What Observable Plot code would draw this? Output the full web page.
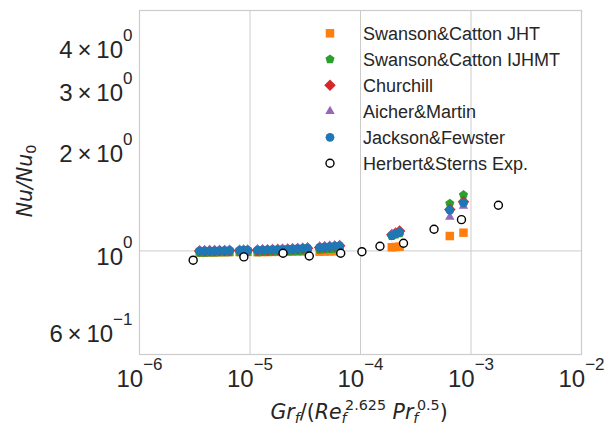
<!DOCTYPE html>
<html>
<head>
<meta charset="utf-8">
<script src="https://cdn.jsdelivr.net/npm/d3@7"></script>
<script src="https://cdn.jsdelivr.net/npm/@observablehq/plot@0.6"></script>
<style>
  html, body { margin: 0; padding: 0; background: #ffffff; }
  #chart { position: relative; width: 606px; height: 428px; }
  svg { display: block; }
</style>
</head>
<body>
<div id="chart"></div>
<script>
// ---------------- data ----------------
const xModel = [3.50e-6, 3.88e-6, 4.31e-6, 4.78e-6, 5.30e-6, 5.89e-6, 6.53e-6,
                8.05e-6, 8.75e-6, 9.51e-6,
                1.17e-5, 1.30e-5, 1.44e-5, 1.60e-5, 1.78e-5, 1.97e-5, 2.19e-5, 2.43e-5, 2.70e-5, 3.00e-5, 3.32e-5,
                4.27e-5, 4.74e-5, 5.26e-5, 5.84e-5, 6.48e-5,
                1.92e-4, 2.08e-4, 2.26e-4,
                6.43e-4, 8.55e-4];

const swansonJHT = [0.990, 0.990, 0.991, 0.991, 0.992, 0.992, 0.993,
                    0.993, 0.994, 0.994,
                    0.992, 0.993, 0.993, 0.994, 0.994, 0.995, 0.995, 0.996, 0.996, 0.997, 0.997,
                    0.995, 0.996, 0.997, 0.998, 0.999,
                    1.025, 1.027, 1.029,
                    1.105, 1.130];

const swansonIJHMT = [0.988, 0.988, 0.989, 0.989, 0.990, 0.990, 0.991,
                      0.991, 0.992, 0.992,
                      0.991, 0.992, 0.993, 0.994, 0.995, 0.996, 0.997, 0.998, 0.999, 1.000, 1.002,
                      1.008, 1.010, 1.012, 1.015, 1.018,
                      1.105, 1.115, 1.125,
                      1.373, 1.455];

const churchill = [1.000, 1.000, 1.001, 1.001, 1.002, 1.002, 1.003,
                   1.003, 1.004, 1.004,
                   1.005, 1.006, 1.007, 1.008, 1.009, 1.010, 1.012, 1.013, 1.015, 1.017, 1.019,
                   1.024, 1.026, 1.029, 1.032, 1.035,
                   1.115, 1.128, 1.142,
                   1.320, 1.390];

const aicherMartin = [1.005, 1.005, 1.006, 1.006, 1.007, 1.007, 1.008,
                      1.008, 1.009, 1.009,
                      1.010, 1.011, 1.012, 1.013, 1.014, 1.015, 1.017, 1.018, 1.020, 1.022, 1.024,
                      1.030, 1.032, 1.035, 1.038, 1.041,
                      1.120, 1.126, 1.132,
                      1.255, 1.350];

const jacksonFewster = [1.000, 1.000, 1.001, 1.001, 1.002, 1.002, 1.003,
                        1.003, 1.004, 1.004,
                        1.005, 1.006, 1.007, 1.008, 1.009, 1.010, 1.012, 1.013, 1.015, 1.017, 1.019,
                        1.024, 1.026, 1.029, 1.032, 1.035,
                        1.110, 1.122, 1.135,
                        1.313, 1.379];

const xExp = [3.06e-6, 8.8e-6, 1.99e-5, 3.44e-5, 6.62e-5, 1.03e-4, 1.50e-4, 2.45e-4, 4.63e-4, 8.2e-4, 1.77e-3];
const yExp = [0.940, 0.961, 0.985, 0.967, 0.985, 0.995, 1.032, 1.053, 1.156, 1.233, 1.358];

const seriesNames = ["Swanson&Catton JHT", "Swanson&Catton IJHMT", "Churchill", "Aicher&Martin", "Jackson&Fewster", "Herbert&Sterns Exp."];
const seriesColors = ["#ff7f0e", "#2ca02c", "#d62728", "#9467bd", "#1f77b4", "#ffffff"];

const xTicks = [1e-6, 1e-5, 1e-4, 1e-3, 1e-2];
const xTickLabels = ["10^−6", "10^−5", "10^−4", "10^−3", "10^−2"];
const yTicks = [0.6, 1, 2, 3, 4];
const yTickLabels = ["6\u2009×\u200910^−1", "10^0", "2\u2009×\u200910^0", "3\u2009×\u200910^0", "4\u2009×\u200910^0"];

// ---------------- symbols ----------------
const pentagon = {
  draw(context, size) {
    const R = Math.sqrt(size / 2.3776);
    for (let i = 0; i < 5; i++) {
      const a = -Math.PI / 2 + i * 2 * Math.PI / 5;
      const px = R * Math.cos(a), py = R * Math.sin(a);
      if (i === 0) context.moveTo(px, py); else context.lineTo(px, py);
    }
    context.closePath();
  }
};
const seriesSymbols = [d3.symbolSquare, pentagon, d3.symbolDiamond2, d3.symbolTriangle, d3.symbolCircle, d3.symbolCircle];
const seriesR = [4.8, 4.2, 5.2, 3.5, 4.4, 4.0];

const modelSeries = [swansonJHT, swansonIJHMT, churchill, aicherMartin, jacksonFewster];
const modelTables = modelSeries.map(ys => xModel.map((x, i) => ({x, y: ys[i]})));
const expTable = xExp.map((x, i) => ({x, y: yExp[i]}));

const textColor = "#262626";
const gridColor = "#cccccc";
const tickFont = "Liberation Sans, Arial, sans-serif";

const marks = [
  Plot.ruleX(xTicks, {x: d => d, stroke: gridColor, strokeWidth: 1}),
  Plot.ruleY([1], {y: d => d, stroke: gridColor, strokeWidth: 1}),
  Plot.frame({stroke: gridColor, strokeWidth: 1.2}),
  ...modelTables.map((tbl, k) => Plot.dot(tbl, {
    x: "x", y: "y", symbol: seriesSymbols[k], r: seriesR[k], fill: seriesColors[k], stroke: "none"
  })),
  Plot.dot(expTable, {x: "x", y: "y", symbol: "circle", r: seriesR[5], fill: "#ffffff", stroke: "#000000", strokeWidth: 1.4}),
  Plot.text(xTicks, {x: d => d, text: (d, i) => xTickLabels[i], frameAnchor: "bottom", lineAnchor: "bottom",
    dy: 32, fontSize: 24, fill: textColor, fontFamily: tickFont, textAnchor: "middle"}),
  Plot.text(yTicks, {y: d => d, text: (d, i) => yTickLabels[i], frameAnchor: "left", lineAnchor: "bottom",
    dx: -7, dy: 14.3, fontSize: 24, fill: textColor, fontFamily: tickFont, textAnchor: "end"})
];

const svg = Plot.plot({
  width: 606,
  height: 428,
  marginLeft: 139,
  marginRight: 25,
  marginTop: 10,
  marginBottom: 74,
  style: {background: "#ffffff", overflow: "visible"},
  x: {type: "log", domain: [1e-6, 1e-2], axis: null},
  y: {type: "log", domain: [0.5, 5], axis: null},
  marks
});

// superscripts in tick labels
svg.querySelectorAll("text").forEach(t => {
  const s = t.textContent;
  if (s.includes("^")) {
    const [base, exp] = s.split("^");
    t.textContent = base;
    const ts = document.createElementNS("http://www.w3.org/2000/svg", "tspan");
    ts.setAttribute("font-size", "17");
    ts.setAttribute("dy", "-17");
    ts.textContent = exp;
    t.appendChild(ts);
  }
});

const sel = d3.select(svg);

// axis labels
const xl = sel.append("text")
  .attr("x", 359).attr("y", 418.5)
  .attr("text-anchor", "middle")
  .attr("font-family", "DejaVu Sans, sans-serif")
  .attr("font-size", 20.5)
  .attr("fill", textColor);
const parts = [
  {t: "Gr", it: true},
  {t: "f", it: true, fs: 14.3, dy: 4},
  {t: "/(", dy: -4},
  {t: "Re", it: true},
  {t: "f", it: true, fs: 14.3, dy: 4},
  {t: "2.625", fs: 14.3, dy: -13, dx: -1.5},
  {t: "\u00A0", dy: 9},
  {t: "Pr", it: true},
  {t: "f", it: true, fs: 14.3, dy: 4},
  {t: "0.5", fs: 14.3, dy: -13, dx: -1.5},
  {t: ")", dy: 9}
];
parts.forEach(p => {
  const ts = xl.append("tspan").text(p.t);
  if (p.it) ts.attr("font-style", "italic");
  if (p.fs) ts.attr("font-size", p.fs);
  if (p.dy) ts.attr("dy", p.dy);
  if (p.dx) ts.attr("dx", p.dx);
});

const yl = sel.append("text")
  .attr("transform", "translate(31.5,181) rotate(-90)")
  .attr("text-anchor", "middle")
  .attr("font-family", "DejaVu Sans, sans-serif")
  .attr("font-size", 20.5)
  .attr("fill", textColor);
yl.append("tspan").attr("font-style", "italic").text("Nu/Nu");
yl.append("tspan").attr("font-size", 14.3).attr("dy", 4).text("0");

// legend
const lg = sel.append("g").attr("text-anchor", "start");
seriesNames.forEach((name, i) => {
  const cy = 33.3 + i * 26;
  const path = d3.symbol().type(seriesSymbols[i]).size(Math.PI * seriesR[i] * seriesR[i])();
  const p = lg.append("path").attr("d", path).attr("transform", `translate(330,${cy})`)
    .attr("fill", seriesColors[i]);
  if (i === 5) p.attr("stroke", "#000").attr("stroke-width", 1.4);
  lg.append("text").attr("x", 363).attr("y", cy + 6.3)
    .attr("text-anchor", "start")
    .attr("font-family", tickFont).attr("font-size", 18).attr("fill", textColor)
    .text(name);
});

document.getElementById("chart").appendChild(svg);
</script>
</body>
</html>
